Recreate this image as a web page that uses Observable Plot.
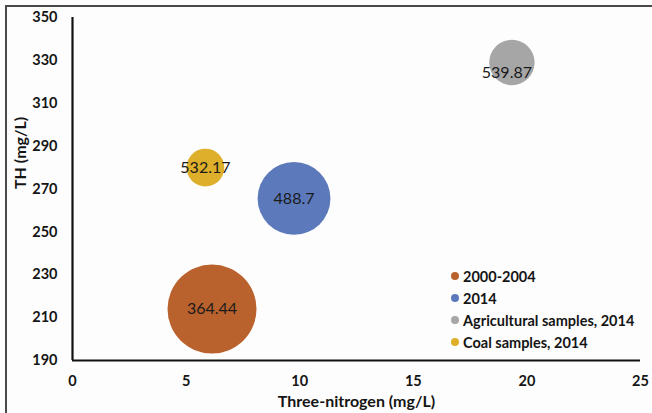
<!DOCTYPE html>
<html>
<head>
<meta charset="utf-8">
<script src="https://cdn.jsdelivr.net/npm/d3@7"></script>
<script src="https://cdn.jsdelivr.net/npm/@observablehq/plot@0.6"></script>
<style>
  body { margin: 0; background: #fff; }
  #chart { position: relative; width: 652px; height: 413px; overflow: hidden; font-family: Lato, "Open Sans", sans-serif; background: #fdfdfd; }
  #chart svg { position: absolute; left: 0; top: 0; }
  #border { position: absolute; left: 5px; top: 5px; width: 700px; height: 500px; border: 2px solid #4a4a4a; box-sizing: border-box; }
  #legend { position: absolute; left: 451px; top: 265px; font-weight: bold; font-size: 14.5px; color: #151515; }
  #legend .row { display: flex; align-items: center; height: 22px; white-space: nowrap; }
  #legend .sw { width: 8px; height: 8px; border-radius: 50%; margin-right: 4px; flex: none; }
</style>
</head>
<body>
<div id="chart"><div id="border"></div></div>
<script>
// Groups of samples and their mean concentrations
const groups = ["2000-2004", "2014", "Agricultural samples, 2014", "Coal samples, 2014"];
const nitrogen = [6.14, 9.75, 19.34, 5.85];      // three-nitrogen, mg/L
const hardness = [214, 265.6, 329, 280];         // TH, mg/L
const bubbleSize = [100, 67, 26, 18];            // relative bubble area
const valueLabels = ["364.44", "488.7", "539.87", "532.17"];
const groupColors = ["#b9622d", "#5b79bb", "#a6a6a6", "#ddaf2a"];
const xTicks = [0, 5, 10, 15, 20, 25];
const yTicks = [190, 210, 230, 250, 270, 290, 310, 330, 350];

const rows = groups.map((g, i) => ({
  group: g, x: nitrogen[i], y: hardness[i], size: bubbleSize[i], label: valueLabels[i]
}));
const offsetLabel = "Agricultural samples, 2014";

const plot = Plot.plot({
  width: 652,
  height: 413,
  marginLeft: 72,
  marginRight: 12,
  marginTop: 17,
  marginBottom: 53,
  style: { fontFamily: "Lato, 'Open Sans', sans-serif", background: "transparent", color: "#151515" },
  x: { domain: [0, 25], ticks: xTicks },
  y: { domain: [190, 350], ticks: yTicks },
  r: { type: "sqrt", domain: [0, 100], range: [0, 44.5] },
  color: { domain: groups, range: groupColors },
  marks: [
    Plot.axisX({ ticks: xTicks, tickSize: 0, tickPadding: 15, fontSize: 14.5, fontWeight: "bold", label: null }),
    Plot.axisY({ ticks: yTicks, tickSize: 0, tickPadding: 15, fontSize: 14.5, fontWeight: "bold", label: null }),
    Plot.ruleX([0], { stroke: "#111", strokeWidth: 2.2 }),
    Plot.ruleY([190], { stroke: "#111", strokeWidth: 2.2 }),
    Plot.dot(rows, { x: "x", y: "y", r: "size", fill: "group", stroke: "none" }),
    Plot.text(rows.filter(d => d.group !== offsetLabel), { x: "x", y: "y", text: "label", fontSize: 16, fill: "#1a1a1a" }),
    Plot.text(rows.filter(d => d.group === offsetLabel), { x: "x", y: "y", text: "label", fontSize: 16, fill: "#1a1a1a", dx: -5, dy: 10 }),
    Plot.text(["TH (mg/L)"], { frameAnchor: "left", dx: -52, rotate: -90, fontSize: 16, fontWeight: "bold", fill: "#151515" }),
    Plot.text(["Three-nitrogen (mg/L)"], { frameAnchor: "bottom", dy: 46, fontSize: 16, fontWeight: "bold", fill: "#151515" })
  ]
});

const chart = document.getElementById("chart");
chart.appendChild(plot);

// Legend: one coloured dot per group
const legend = document.createElement("div");
legend.id = "legend";
groups.forEach((g, i) => {
  const row = document.createElement("div");
  row.className = "row";
  const sw = document.createElement("span");
  sw.className = "sw";
  sw.style.background = groupColors[i];
  const t = document.createElement("span");
  t.textContent = g;
  row.appendChild(sw);
  row.appendChild(t);
  legend.appendChild(row);
});
chart.appendChild(legend);
</script>
</body>
</html>
